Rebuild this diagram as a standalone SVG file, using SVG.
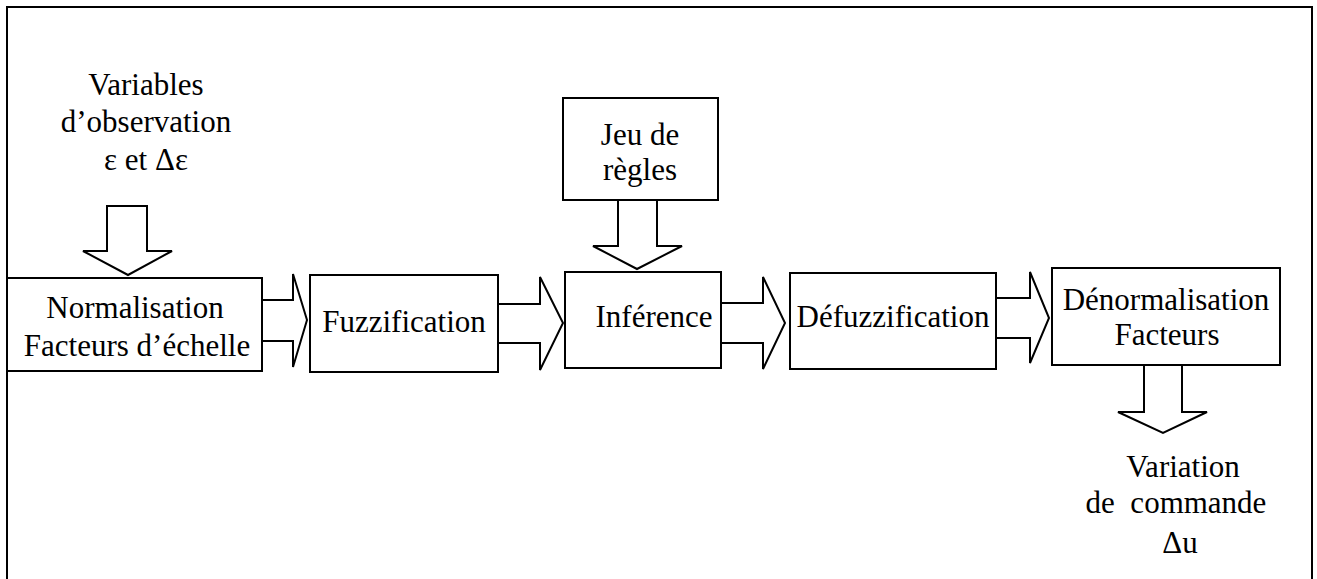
<svg xmlns="http://www.w3.org/2000/svg" width="1317" height="579" viewBox="0 0 1317 579">
<style>
.box{fill:#fff;stroke:#000;stroke-width:2}
.arr{fill:#fff;stroke:#000;stroke-width:2;stroke-linejoin:miter}
.t{font-family:'Liberation Serif','Times New Roman',Times,Tinos,'Noto Serif','DejaVu Serif',FreeSerif,serif;font-size:31px;fill:#000;text-anchor:middle}
</style>
<rect width="1317" height="579" fill="#fff"/>
<rect id="frame" x="7" y="7" width="1305" height="600" fill="none" stroke="#000" stroke-width="2"/>
<g id="connectors">
<polygon class="arr" points="107,206 147,206 147,251 172,251 128,275 83,251 107,251"/>
<polygon class="arr" points="262,300 293,300 293,274 307,320 293,367 293,341 262,341"/>
<polygon class="arr" points="498,304 540,304 540,277 563,323 540,370 540,343 498,343"/>
<polygon class="arr" points="721,303 763,303 763,277 785,323 763,369 763,343 721,343"/>
<polygon class="arr" points="996,298 1030,298 1030,272 1049,318 1030,363 1030,338 996,338"/>
<polygon class="arr" points="618,200 657,200 657,246 682,246 637,269 593,246 618,246"/>
<polygon class="arr" points="1144,365 1182,365 1182,412 1207,412 1163,433 1118,412 1144,412"/>
</g>
<g id="input">
<text class="t" x="146" y="95">Variables</text>
<text class="t" x="146" y="132">d’observation</text>
<text class="t" x="146" y="170">ε et Δε</text>
</g>
<g id="normalisation">
<rect class="box" x="7" y="278" width="255" height="93"/>
<text class="t" x="135" y="318">Normalisation</text>
<text class="t" x="137" y="356">Facteurs d’échelle</text>
</g>
<g id="fuzzification">
<rect class="box" x="310" y="275" width="188" height="97"/>
<text class="t" x="404" y="332">Fuzzification</text>
</g>
<g id="regles">
<rect class="box" x="563" y="98" width="155" height="102"/>
<text class="t" x="640" y="145">Jeu de</text>
<text class="t" x="640" y="180">règles</text>
</g>
<g id="inference">
<rect class="box" x="565" y="272" width="156" height="96"/>
<text class="t" x="654" y="327">Inférence</text>
</g>
<g id="defuzzification">
<rect class="box" x="790" y="273" width="206" height="96"/>
<text class="t" x="893" y="327">Défuzzification</text>
</g>
<g id="denormalisation">
<rect class="box" x="1052" y="268" width="228" height="97"/>
<text class="t" x="1166" y="310">Dénormalisation</text>
<text class="t" x="1167" y="345">Facteurs</text>
</g>
<g id="output">
<text class="t" x="1183" y="477">Variation</text>
<text class="t" x="1176" y="513" xml:space="preserve">de  commande</text>
<text class="t" x="1180" y="553">Δu</text>
</g>
</svg>
